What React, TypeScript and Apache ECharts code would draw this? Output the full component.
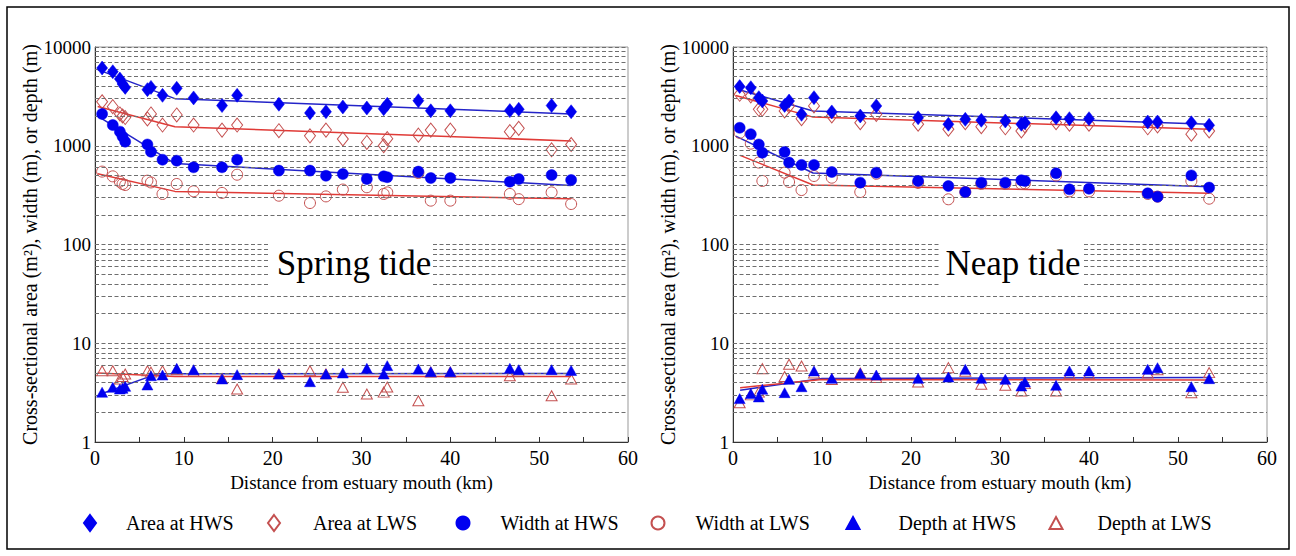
import React, { useEffect, useRef } from "react";
import * as echarts from "echarts";

// ---------- data ----------
const SPRING_KM = [0.8, 2.0, 2.8, 3.1, 3.4, 5.9, 6.3, 7.6, 9.2, 11.1, 14.3, 16.0, 20.7, 24.2, 26.0, 27.9, 30.6, 32.5, 32.9, 36.4, 37.8, 40.0, 46.7, 47.7, 51.4, 53.6];
const SPRING_AREA_HWS = [6120, 5620, 4740, 4220, 3900, 3700, 3900, 3240, 3820, 3050, 2550, 3240, 2630, 2150, 2210, 2470, 2410, 2370, 2630, 2860, 2260, 2260, 2270, 2340, 2550, 2210];
const SPRING_AREA_LWS = [2790, 2490, 2100, 2000, 1930, 1870, 2100, 1620, 2050, 1620, 1440, 1620, 1420, 1260, 1440, 1170, 1080, 1000, 1180, 1280, 1440, 1440, 1390, 1500, 910, 1030];
const SPRING_WIDTH_HWS = [2100, 1620, 1390, 1240, 1100, 1030, 870, 722, 706, 605, 605, 722, 560, 560, 497, 517, 460, 490, 480, 547, 471, 471, 433, 460, 505, 450];
const SPRING_WIDTH_LWS = [547, 490, 433, 410, 400, 443, 425, 325, 410, 346, 333, 509, 312, 263, 307, 360, 380, 325, 337, 530, 278, 278, 325, 288, 337, 257];
const SPRING_DEPTH_HWS = [3.19, 3.58, 3.44, 3.5, 3.66, 3.78, 4.69, 4.77, 5.57, 5.4, 4.35, 4.81, 4.88, 4.08, 4.88, 5.0, 5.57, 4.88, 5.93, 5.49, 5.15, 5.15, 5.57, 5.4, 5.4, 5.3];
const SPRING_DEPTH_LWS = [5.27, 5.27, 4.35, 4.6, 4.88, 5.27, 5.1, 5.27, 5.4, 5.2, 4.4, 3.44, 4.9, 5.27, 4.9, 3.58, 3.06, 3.2, 3.6, 2.62, 5.1, 5.1, 4.69, 5.2, 2.94, 4.35];

const NEAP_KM = [0.75, 2.0, 2.9, 3.3, 5.8, 6.3, 7.7, 9.1, 11.1, 14.3, 16.1, 20.8, 24.2, 26.1, 27.9, 30.6, 32.4, 32.8, 36.3, 37.8, 40.0, 46.6, 47.7, 51.5, 53.5];
const NEAP_AREA_HWS = [3970, 3870, 3070, 2840, 2560, 2840, 2080, 3070, 2200, 2000, 2530, 1920, 1650, 1850, 1810, 1780, 1650, 1710, 1920, 1880, 1880, 1740, 1740, 1710, 1610];
const NEAP_AREA_LWS = [3320, 3200, 2340, 2340, 2250, 2530, 1880, 2530, 2000, 1710, 2080, 1650, 1470, 1710, 1560, 1520, 1410, 1590, 1710, 1650, 1650, 1520, 1590, 1310, 1410];
const NEAP_WIDTH_HWS = [1520, 1310, 1030, 850, 865, 675, 640, 640, 542, 423, 534, 440, 391, 340, 423, 423, 447, 440, 526, 362, 367, 330, 305, 501, 377];
const NEAP_WIDTH_LWS = [1350, 1050, 675, 440, 534, 430, 356, 494, 475, 340, 520, 420, 287, 340, 410, 410, 410, 415, 500, 345, 345, 325, 305, 440, 291];
const NEAP_DEPTH_HWS = [2.75, 3.09, 2.86, 3.42, 3.16, 4.31, 3.63, 5.24, 4.41, 4.96, 4.77, 4.41, 4.55, 5.44, 4.41, 4.31, 3.69, 4.05, 3.75, 5.24, 5.24, 5.44, 5.66, 3.63, 4.38];
const NEAP_DEPTH_LWS = [2.5, 3.0, 3.2, 5.53, 4.6, 6.12, 5.89, 5.0, 4.3, 5.0, 4.5, 4.05, 5.66, 5.2, 3.84, 3.75, 3.28, 3.9, 3.28, 4.9, 4.9, 5.0, 5.4, 3.16, 5.04];

// fitted lines: [km, value]
const SPRING_FIT_AREA_HWS = [[0.3, 5900], [9.0, 3000], [53.6, 2100]];
const SPRING_FIT_AREA_LWS = [[0.3, 2500], [9.0, 1560], [53.6, 1120]];
const SPRING_FIT_WIDTH_HWS = [[0.3, 2000], [9.0, 660], [53.6, 395]];
const SPRING_FIT_WIDTH_LWS = [[0.3, 520], [9.0, 345], [53.6, 290]];
const SPRING_FIT_DEPTH_HWS = [[0.8, 3.1], [7.0, 4.9], [53.6, 4.95]];
const SPRING_FIT_DEPTH_LWS = [[0.3, 5.0], [9.0, 4.6], [53.6, 4.6]];

const NEAP_FIT_AREA_HWS = [[0.3, 3780], [9.0, 2250], [53.5, 1650]];
const NEAP_FIT_AREA_LWS = [[0.3, 3230], [9.0, 1950], [53.5, 1470]];
const NEAP_FIT_WIDTH_HWS = [[0.3, 1250], [9.0, 530], [53.5, 385]];
const NEAP_FIT_WIDTH_LWS = [[0.8, 800], [9.0, 400], [53.5, 330]];
const NEAP_FIT_DEPTH_HWS = [[0.8, 3.35], [10.0, 4.4], [53.5, 4.5]];
const NEAP_FIT_DEPTH_LWS = [[0.8, 3.55], [10.0, 4.3], [53.5, 4.25]];

const X_TICKS = [0, 10, 20, 30, 40, 50, 60];
const Y_TICKS = [1, 10, 100, 1000, 10000];
const GRID_LINES = [2, 3, 4, 5, 6, 7, 8, 9, 10, 20, 30, 40, 50, 60, 70, 80, 90, 100, 200, 300, 400, 500, 600, 700, 800, 900, 1000, 2000, 3000, 4000, 5000, 6000, 7000, 8000, 9000, 10000];

const LEGEND_NAMES = ["Area at HWS", "Area at LWS", "Width at HWS", "Width at LWS", "Depth at HWS", "Depth at LWS"];
const PANEL_TITLES = ["Spring tide", "Neap tide"];
const Y_TITLE = "Cross-sectional area (m²), width (m), or depth (m)";
const X_TITLE = "Distance from estuary mouth (km)";

// ---------- styles ----------
const FONT = "Liberation Serif";
const BLUE = "#0000f0";
const BLUE_LINE = "#2424c8";
const RED_LINE = "#e03a36";
const RED_MARK = "#c45050";
const HOLLOW = "rgba(255,255,255,0)";

const GRIDS = [
  { left: 95, top: 47, width: 533, height: 395 },
  { left: 733, top: 47, width: 534, height: 395 },
];

function pairs(xs: number[], ys: number[]) {
  return xs.map((x, i) => [x, ys[i]]);
}

function buildOption() {
  const panels = [
    {
      km: SPRING_KM,
      vals: [SPRING_AREA_HWS, SPRING_AREA_LWS, SPRING_WIDTH_HWS, SPRING_WIDTH_LWS, SPRING_DEPTH_HWS, SPRING_DEPTH_LWS],
      fits: [SPRING_FIT_AREA_HWS, SPRING_FIT_AREA_LWS, SPRING_FIT_WIDTH_HWS, SPRING_FIT_WIDTH_LWS, SPRING_FIT_DEPTH_HWS, SPRING_FIT_DEPTH_LWS],
    },
    {
      km: NEAP_KM,
      vals: [NEAP_AREA_HWS, NEAP_AREA_LWS, NEAP_WIDTH_HWS, NEAP_WIDTH_LWS, NEAP_DEPTH_HWS, NEAP_DEPTH_LWS],
      fits: [NEAP_FIT_AREA_HWS, NEAP_FIT_AREA_LWS, NEAP_FIT_WIDTH_HWS, NEAP_FIT_WIDTH_LWS, NEAP_FIT_DEPTH_HWS, NEAP_FIT_DEPTH_LWS],
    },
  ];
  const symbols = ["diamond", "diamond", "circle", "circle", "triangle", "triangle"];
  const sizes: any[] = [[11, 14], [11, 14], 11, 11, [11, 10], [11, 10]];

  const series: any[] = [];
  panels.forEach((p, gi) => {
    series.push({
      type: "line",
      name: "grid" + gi,
      xAxisIndex: gi,
      yAxisIndex: gi,
      data: [],
      silent: true,
      z: 1,
      markLine: {
        silent: true,
        symbol: ["none", "none"],
        label: { show: false },
        lineStyle: { type: [4, 2.5], color: "#6e6e6e", width: 1 },
        emphasis: { disabled: true },
        data: GRID_LINES.map((v) => ({ yAxis: v })),
      },
    });
    p.fits.forEach((f, k) => {
      const hws = k % 2 === 0;
      series.push({
        type: "line",
        name: LEGEND_NAMES[k] + " fit " + gi,
        xAxisIndex: gi,
        yAxisIndex: gi,
        data: f,
        symbol: "none",
        silent: true,
        z: 3,
        lineStyle: { color: hws ? BLUE_LINE : RED_LINE, width: 1.5 },
      });
    });
    // LWS first (behind), HWS on top
    [1, 3, 5, 0, 2, 4].forEach((k) => {
      const hws = k % 2 === 0;
      series.push({
        type: "scatter",
        name: LEGEND_NAMES[k],
        xAxisIndex: gi,
        yAxisIndex: gi,
        data: pairs(p.km, p.vals[k]),
        symbol: symbols[k],
        symbolSize: sizes[k],
        z: hws ? 5 : 4,
        itemStyle: hws
          ? { color: BLUE, borderColor: BLUE, borderWidth: 0.5, opacity: 1 }
          : { color: HOLLOW, borderColor: RED_MARK, borderWidth: 1, opacity: 1 },
      });
    });
  });

  const legendSpec = [
    { left: 83, w: 12, h: 16, pad: 25 },
    { left: 267, w: 12, h: 16, pad: 28 },
    { left: 455.5, w: 13, h: 13, pad: 26 },
    { left: 650.5, w: 13, h: 13, pad: 26 },
    { left: 845.5, w: 13, h: 12, pad: 34 },
    { left: 1048.5, w: 13, h: 12, pad: 30 },
  ];
  const legend = legendSpec.map((s, i) => ({
    left: s.left,
    top: 513,
    padding: 0,
    itemWidth: s.w,
    itemHeight: s.h,
    selectedMode: false,
    data: [LEGEND_NAMES[i]],
    textStyle: { fontFamily: FONT, fontSize: 20, color: "#000", padding: [0, 0, 0, s.pad] },
  }));

  const xAxis = GRIDS.map((_, gi) => ({
    type: "value",
    gridIndex: gi,
    min: X_TICKS[0],
    max: X_TICKS[X_TICKS.length - 1],
    interval: X_TICKS[1] - X_TICKS[0],
    name: X_TITLE,
    nameLocation: "middle",
    nameGap: 31,
    nameTextStyle: { fontFamily: FONT, fontSize: 19, color: "#000" },
    axisLine: { show: true, lineStyle: { color: "#333", width: 1 } },
    axisTick: { show: true, inside: true, length: 5, lineStyle: { color: "#333" } },
    minorTick: { show: true, splitNumber: 2, length: 5, lineStyle: { color: "#333" } },
    splitLine: { show: false },
    axisLabel: { fontFamily: FONT, fontSize: 20, color: "#000", margin: 6 },
  }));

  const yAxis = GRIDS.map((_, gi) => ({
    type: "log",
    logBase: 10,
    gridIndex: gi,
    min: Y_TICKS[0],
    max: Y_TICKS[Y_TICKS.length - 1],
    splitNumber: 4,
    name: Y_TITLE,
    nameLocation: "middle",
    nameGap: gi === 0 ? 52 : 50,
    nameTextStyle: { fontFamily: FONT, fontSize: 20, color: "#000" },
    axisLine: { show: true, lineStyle: { color: "#333", width: 1 } },
    axisTick: { show: false },
    splitLine: { show: false },
    axisLabel: {
      fontFamily: FONT,
      fontSize: 19,
      color: "#000",
      margin: 4,
      formatter: (v: number) => String(Math.round(v)),
    },
  }));

  const graphic: any[] = [
    {
      type: "rect",
      z: 100,
      silent: true,
      shape: { x: 270, y: 240, width: 162, height: 47 },
      style: { fill: "#fff" },
    },
    {
      type: "text",
      z: 101,
      silent: true,
      x: 354,
      y: 263,
      style: { text: PANEL_TITLES[0], font: "35px " + FONT, fill: "#000", align: "center", verticalAlign: "middle" },
    },
    {
      type: "rect",
      z: 100,
      silent: true,
      shape: { x: 939, y: 240, width: 145, height: 47 },
      style: { fill: "#fff" },
    },
    {
      type: "text",
      z: 101,
      silent: true,
      x: 1013,
      y: 263,
      style: { text: PANEL_TITLES[1], font: "35px " + FONT, fill: "#000", align: "center", verticalAlign: "middle" },
    },
    {
      type: "rect",
      z: 100,
      silent: true,
      shape: { x: 7, y: 7, width: 1282, height: 542 },
      style: { fill: "none", stroke: "#000", lineWidth: 1.5 },
    },
  ];

  return {
    animation: false,
    backgroundColor: "#fff",
    grid: GRIDS.map((g) => ({ ...g, show: true, borderColor: "#999", borderWidth: 1, backgroundColor: "transparent" })),
    xAxis,
    yAxis,
    legend,
    series,
    graphic,
  };
}

export default function App() {
  const ref = useRef<HTMLDivElement>(null);
  useEffect(() => {
    if (!ref.current) return;
    const chart = echarts.init(ref.current, null, { renderer: "svg" });
    chart.setOption(buildOption() as any);
    return () => chart.dispose();
  }, []);
  return (
    <div
      ref={ref}
      style={{ position: "fixed", left: 0, top: 0, width: 1296, height: 556, background: "#fff" }}
    />
  );
}
